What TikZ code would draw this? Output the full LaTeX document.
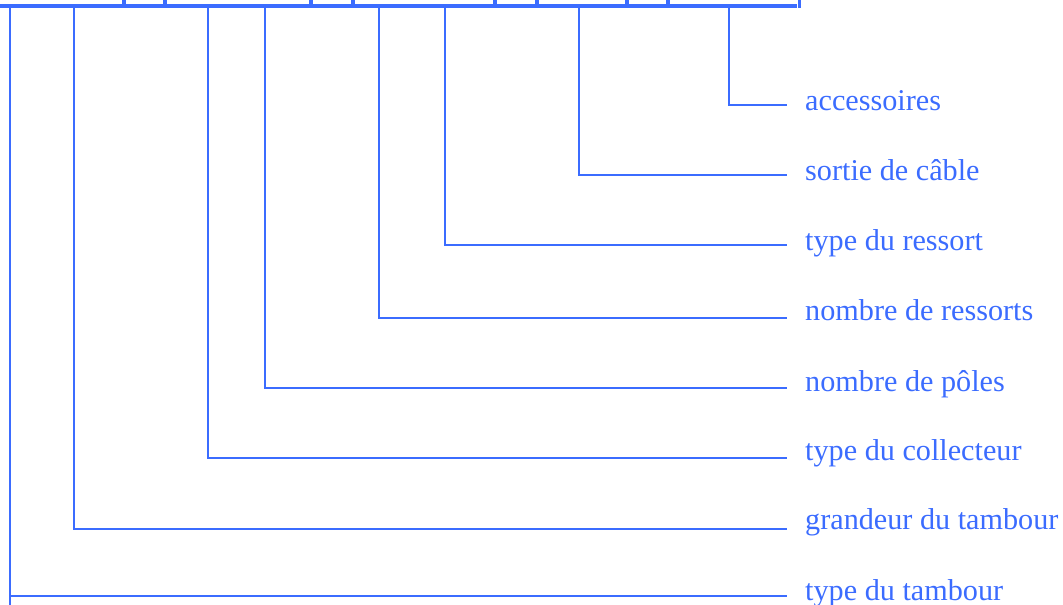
\documentclass[tikz,border=0pt]{standalone}
\usepackage{fontspec}
\setmainfont{Liberation Serif}
\definecolor{lineblue}{RGB}{59,108,255}
\begin{document}
\begin{tikzpicture}[x=1pt,y=-1pt,
  conn/.style={draw=lineblue,line width=2.4pt},
  topbar/.style={draw=lineblue,line width=4.5pt},
  lbl/.style={anchor=base west,inner sep=0pt,text=lineblue,font=\fontsize{30.2}{34}\selectfont}]
\useasboundingbox (0,0) rectangle (1063,605);
% top box bottom edge and separators
\draw[topbar] (-10,6) -- (797,6);
\draw[conn,line width=3pt] (799,-5) -- (799,8);
\foreach \sx in {124,165,311,353,495,537,627,668} {
  \draw[draw=lineblue,line width=3.2pt] (\sx,-5) -- (\sx,6);
}
% labels and connectors
\foreach \name/\xx/\yy/\by/\txt in {
  a/729/105/110/accessoires,
  b/579/175/180/sortie de câble,
  c/445/245/250/type du ressort,
  d/379/318/320/nombre de ressorts,
  e/265/388/391/nombre de pôles,
  f/208/458/460/type du collecteur,
  g/74/529/529/grandeur du tambour,
  h/10/596/600/type du tambour} {
  \coordinate (t\name) at (\xx,6);
  \coordinate (e\name) at (787,\yy);
  \node[lbl] (l\name) at (805,\by) {\txt};
  \draw[conn] (t\name) |- (e\name);
}
\draw[conn] (th) -- (10,605);
\end{tikzpicture}
\end{document}
